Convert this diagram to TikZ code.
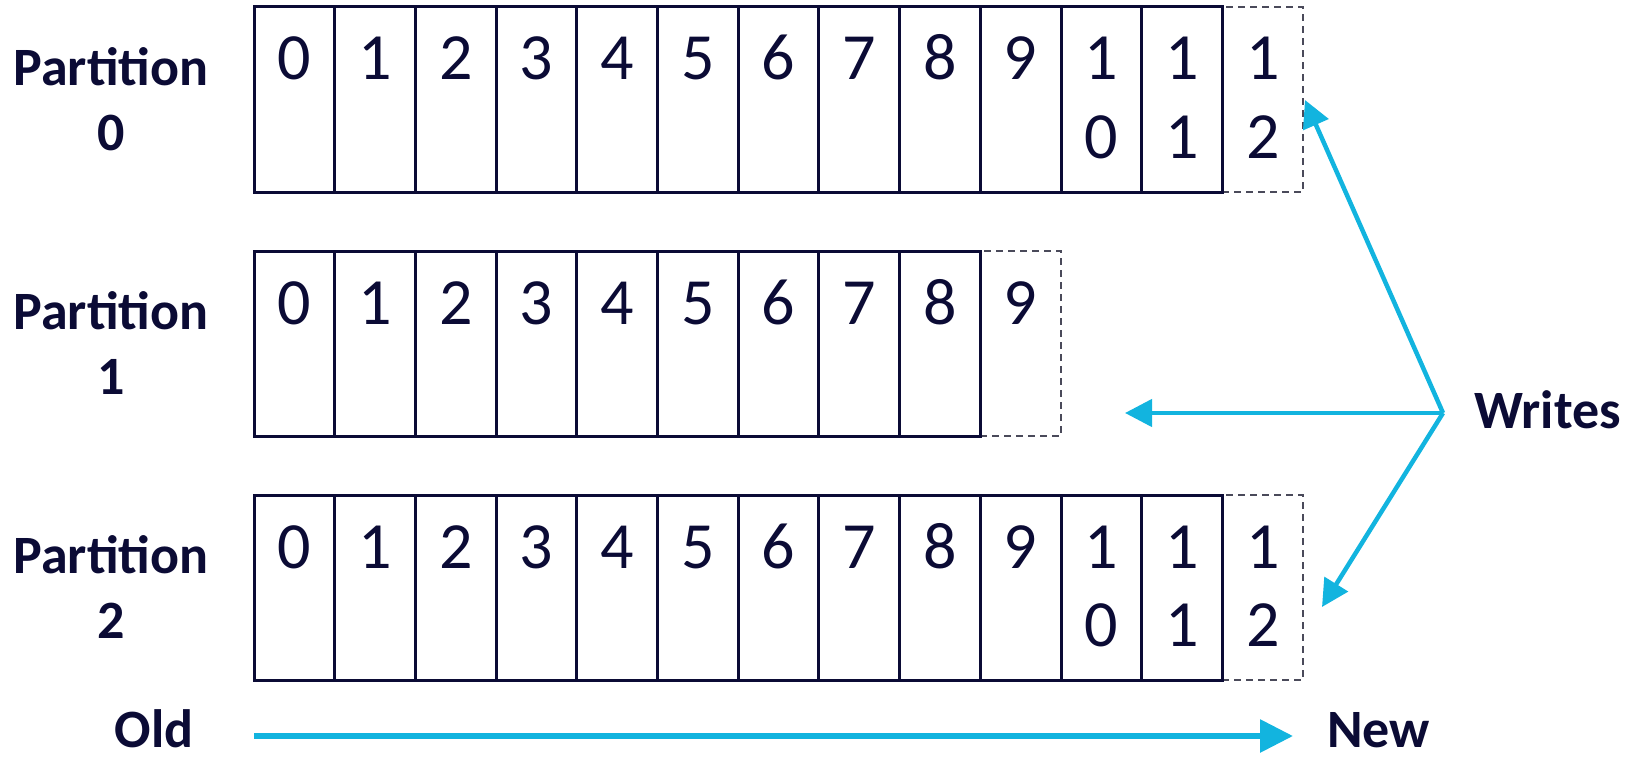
\documentclass[tikz,border=0pt]{standalone}
\usepackage{fontspec}
\setmainfont{Carlito}
\usetikzlibrary{arrows.meta}
\definecolor{navy}{HTML}{0B0B35}
\definecolor{cyanw}{HTML}{12B4DF}
\definecolor{dashgray}{HTML}{4A4A5A}
\tikzset{
  cell/.style={draw=navy, line width=3pt, minimum width=80.7pt, minimum height=185pt, inner sep=0pt, outer sep=0pt, anchor=north west},
  newcell/.style={draw=dashgray, line width=2pt, dash pattern=on 7pt off 5pt, minimum width=80.7pt, minimum height=185pt, inner sep=0pt, outer sep=0pt, anchor=north west},
  digit/.style={font=\fontsize{66}{66}\selectfont, text=navy, anchor=base, inner sep=0pt},
  lbl/.style={font=\bfseries\fontsize{54}{54}\selectfont, text=navy, anchor=base, inner sep=0pt},
  wr/.style={draw=cyanw, line width=4.5pt, -{Triangle[length=27pt,width=27pt]}},
  tl/.style={draw=cyanw, line width=6pt, -{Triangle[length=33pt,width=32pt]}}
}
\begin{document}
\begin{tikzpicture}[x=1pt,y=-1pt]
\useasboundingbox (0,0) rectangle (1651,760);
\foreach \r/\n in {0/13,1/10,2/13} {
  \pgfmathsetmacro\rowtop{7+244*\r}
  \pgfmathtruncatemacro\last{\n-1}
  \pgfmathtruncatemacro\penult{\n-2}
  \node[newcell] (c\r-\last) at (254+80.7*\last, \rowtop) {};
  \foreach \k in {0,...,\penult} {
    \node[cell] (c\r-\k) at (254+80.7*\k, \rowtop) {};
  }
  \foreach \k in {0,...,\last} {
    \ifnum\k<10
      \node[digit] (d\r-\k) at ([yshift=-73pt]c\r-\k.north) {\k};
    \else
      \pgfmathtruncatemacro\dd{\k-10}
      \node[digit] (d\r-\k a) at ([yshift=-73pt]c\r-\k.north) {1};
      \node[digit] (d\r-\k b) at ([yshift=-151pt]c\r-\k.north) {\dd};
    \fi
  }
  \node[lbl] (p\r) at (111, \rowtop+78) {Partition};
  \node[lbl] (pn\r) at (111, \rowtop+143) {\r};
}
\node[lbl, anchor=base west] (writes) at (1474,428) {Writes};
\coordinate (w) at (1443,413);
\coordinate (t0) at (1305,100);
\coordinate (t1) at (1125,413);
\coordinate (t2) at (1322,607);
\draw[wr] (w) -- (t0);
\draw[wr] (w) -- (t1);
\draw[wr] (w) -- (t2);
\node[lbl] (old) at (154,747) {Old};
\node[lbl, anchor=base west] (new) at (1327,747) {New};
\coordinate (os) at (254,736);
\coordinate (ne) at (1293,736);
\draw[tl] (os) -- (ne);
\end{tikzpicture}
\end{document}
